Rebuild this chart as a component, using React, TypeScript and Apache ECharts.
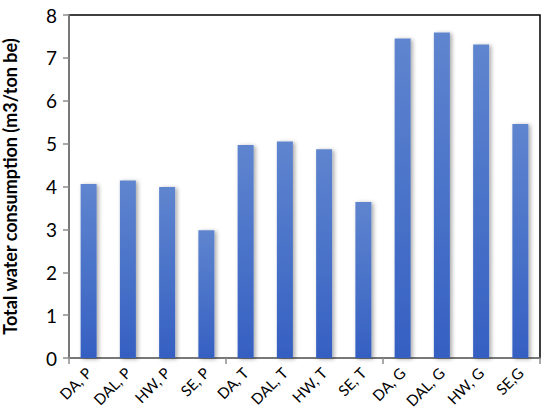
import React, { useEffect, useRef } from "react";
import * as echarts from "echarts";

const categories = ["DA, P", "DAL, P", "HW, P", "SE, P", "DA, T", "DAL, T", "HW, T", "SE, T", "DA, G", "DAL, G", "HW, G", "SE,G"];
const values = [4.06, 4.14, 3.99, 2.98, 4.97, 5.05, 4.87, 3.64, 7.45, 7.59, 7.31, 5.46];
const yTicks = [0, 1, 2, 3, 4, 5, 6, 7, 8];

export default function App() {
  const ref = useRef<HTMLDivElement>(null);
  useEffect(() => {
    const chart = echarts.init(ref.current!, null, { renderer: "svg" });
    chart.setOption({
      animation: false,
      backgroundColor: "#ffffff",
      grid: { left: 69, right: 10, top: 15, bottom: 62, show: true, borderColor: "#000", borderWidth: 1.5, containLabel: false, outerBoundsMode: "none" },
      xAxis: {
        type: "category",
        data: categories,
        axisLine: { lineStyle: { color: "#8c8c8c", width: 1.5 } },
        axisTick: { show: true, interval: (i: number) => i % 4 === 0, length: 6, lineStyle: { color: "#8c8c8c", width: 1.5 } },
        axisLabel: { rotate: 45, interval: 0, margin: 12, fontSize: 15, color: "#000", fontFamily: "Lato" },
      },
      yAxis: {
        type: "value",
        min: yTicks[0],
        max: yTicks[yTicks.length - 1],
        interval: 1,
        name: "Total water consumption (m3/ton be)",
        nameLocation: "middle",
        nameGap: 50,
        nameTextStyle: { fontSize: 18, fontWeight: "bold", color: "#000", fontFamily: "Lato" },
        splitLine: { show: false },
        axisLine: { show: true, lineStyle: { color: "#8c8c8c", width: 1.5 } },
        axisTick: { show: true, length: 6, lineStyle: { color: "#8c8c8c", width: 1.5 } },
        axisLabel: { fontSize: 19, color: "#000", margin: 12, fontFamily: "Lato" },
      },
      series: [
        {
          type: "bar",
          data: values,
          barWidth: 16,
          itemStyle: {
            color: new echarts.graphic.LinearGradient(0, 0, 0, 1, [
              { offset: 0, color: "#5f85cf" },
              { offset: 1, color: "#3560c2" },
            ]),
            shadowBlur: 4,
            shadowOffsetX: 2,
            shadowOffsetY: 1,
            shadowColor: "rgba(0,0,0,0.35)",
          },
        },
      ],
    });
    return () => chart.dispose();
  }, []);
  return <div ref={ref} style={{ position: "fixed", left: 0, top: 0, width: 550, height: 420 }} />;
}
